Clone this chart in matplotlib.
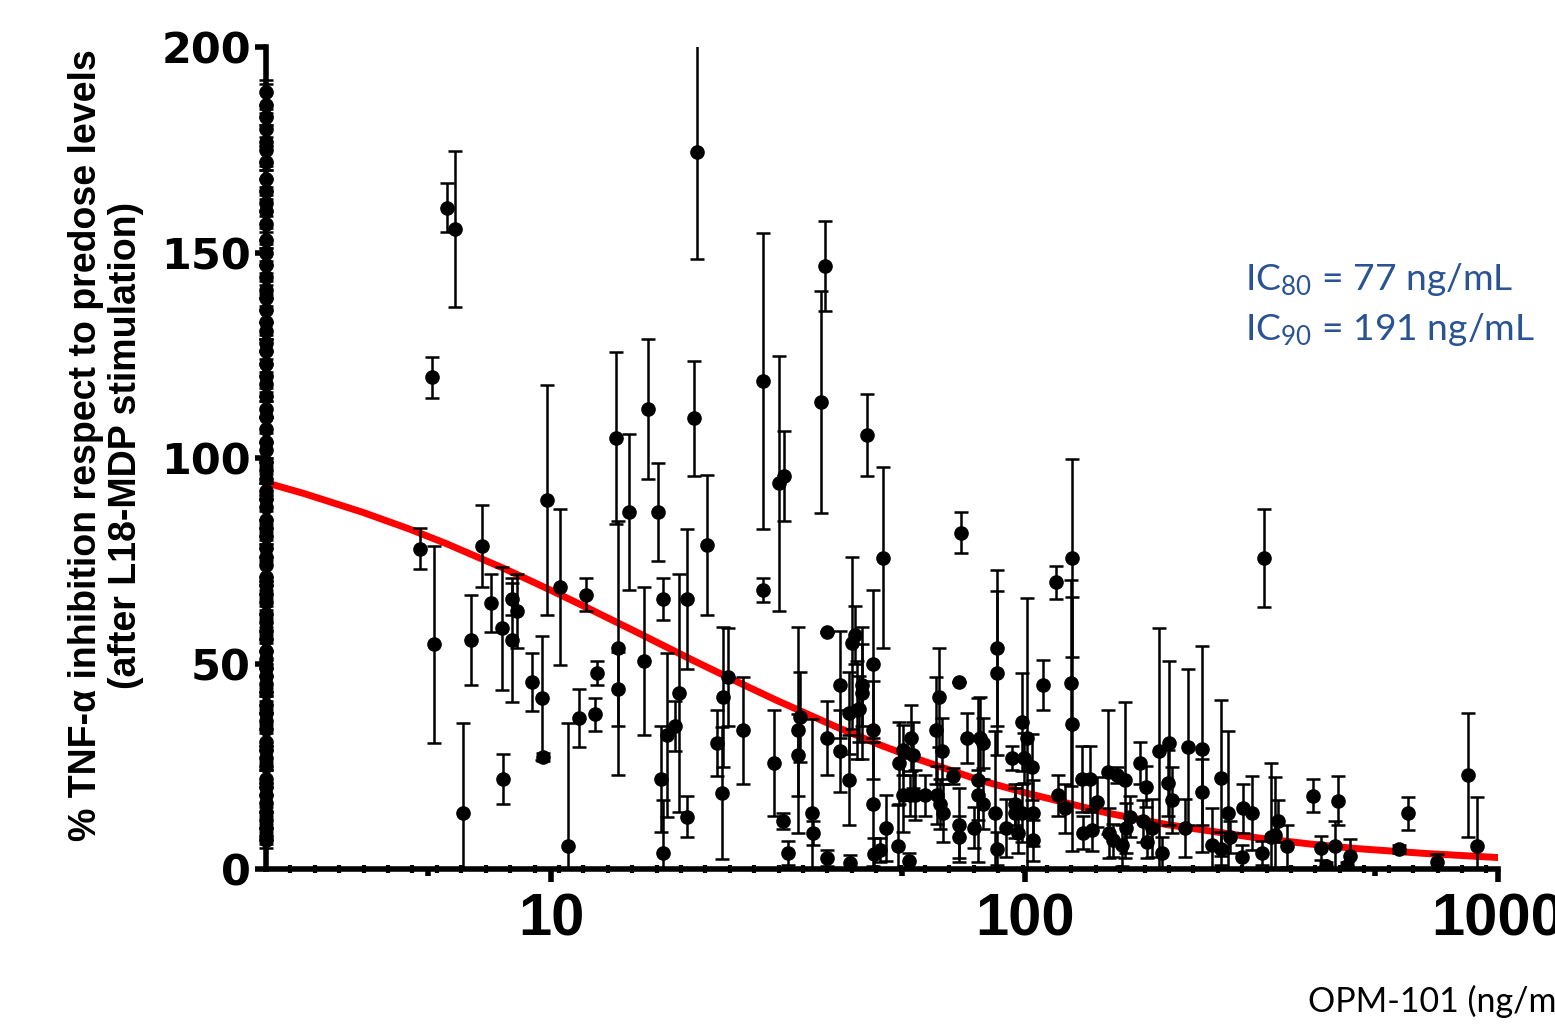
import numpy as np
import matplotlib
matplotlib.use("Agg")
import matplotlib.pyplot as plt
from matplotlib import font_manager
from matplotlib.ticker import FixedLocator, NullFormatter, NullLocator

# --- data -----------------------------------------------------------------
# OPM-101 concentration (ng/mL), % TNF-a inhibition and its error
conc = [5.29, 5.66, 5.61, 6.03, 6.27, 6.52, 6.78, 7.15, 7.47, 7.88,
        7.92, 8.27, 8.27, 8.48, 9.12, 9.57, 9.62, 9.81, 10.45, 10.86,
        11.46, 11.86, 12.5, 12.38, 13.72, 13.85, 13.85, 14.61, 15.72, 16.03,
        16.83, 17.24, 17.07, 17.24, 17.58, 18.28, 18.64, 19.38, 19.38, 20.04,
        20.34, 21.35, 23.08, 23.65, 22.97, 22.42, 25.44, 28.04, 28.04, 29.58,
        30.3, 31.0, 37.91, 37.18, 46.47, 73.45, 50.26, 126.0, 125.4, 126.0,
        30.9, 31.66, 33.24, 33.56, 33.24, 35.58, 35.7, 38.28, 38.28, 38.28,
        40.76, 40.76, 42.6, 42.6, 42.8, 43.22, 43.85, 44.3, 45.38, 45.38,
        44.72, 47.86, 47.86, 47.86, 48.1, 49.53, 50.99, 54.06, 54.3, 55.4,
        55.4, 57.6, 58.15, 57.3, 57.04, 58.7, 61.65, 65.04, 65.99, 66.9,
        65.4, 66.3, 67.2, 70.63, 72.72, 72.72, 72.72, 75.62, 78.24, 79.77,
        79.77, 80.5, 81.74, 81.74, 86.6, 87.5, 87.5, 87.5, 91.4, 94.1,
        95.5, 95.5, 96.9, 98.8, 99.8, 101.2, 103.7, 104.2, 104.2, 98.8,
        109.4, 116.6, 117.6, 121.8, 132.2, 132.8, 137.5, 138.8, 142.3, 150.1,
        150.8, 153.8, 156.8, 160.6, 163.0, 163.8, 167.0, 175.4, 180.6, 178.0,
        181.4, 185.9, 192.3, 195.1, 201.9, 200.9, 204.9, 218.3, 221.2, 237.1,
        237.1, 248.9, 260.0, 260.0, 269.1, 272.0, 288.1, 289.4, 302.4, 317.4,
        331.6, 338.1, 343.1, 358.5, 406.6, 422.8, 433.1, 452.5, 459.2, 486.9,
        479.8, 618.0, 645.6, 743.2, 864.5, 902.9, 320.4]
inhib = [77.9, 54.7, 119.7, 160.9, 155.7, 13.6, 55.7, 78.6, 64.7, 58.6,
         21.9, 65.7, 55.7, 62.8, 45.5, 41.6, 27.3, 89.8, 68.6, 5.6,
         36.7, 66.7, 47.7, 37.7, 104.9, 53.8, 43.8, 86.9, 50.6, 111.9,
         86.9, 65.7, 21.9, 3.9, 32.6, 34.8, 42.8, 12.7, 65.7, 109.7,
         174.5, 78.8, 41.8, 46.7, 18.5, 30.7, 33.8, 118.7, 67.9, 25.8,
         93.9, 95.6, 146.7, 113.6, 105.6, 81.8, 75.7, 75.7, 45.3, 35.3,
         11.7, 3.9, 33.8, 37.0, 27.7, 13.6, 8.8, 57.7, 31.9, 2.7,
         44.8, 28.7, 38.0, 21.7, 1.5, 55.0, 56.9, 38.7, 44.8, 42.8,
         38.9, 49.9, 33.8, 15.8, 3.6, 4.6, 10.0, 5.6, 25.8, 29.0,
         18.0, 31.9, 27.7, 18.0, 1.9, 18.0, 18.0, 33.8, 41.8, 28.7,
         18.0, 15.8, 13.6, 22.6, 10.7, 7.8, 45.5, 31.9, 10.0, 21.7,
         18.0, 31.9, 30.7, 15.8, 13.6, 4.9, 53.8, 47.7, 10.0, 27.0,
         15.8, 13.6, 8.8, 35.8, 27.0, 31.9, 24.8, 13.6, 7.0, 13.6,
         44.8, 69.8, 18.0, 14.8, 21.9, 8.8, 21.9, 9.5, 16.3, 23.6,
         8.8, 7.0, 22.9, 5.8, 21.7, 10.0, 12.7, 25.8, 20.0, 11.7,
         6.6, 10.0, 28.7, 3.9, 30.7, 20.9, 16.8, 10.0, 29.7, 29.2,
         18.7, 5.8, 4.9, 22.1, 13.6, 7.8, 2.9, 14.8, 13.6, 3.9,
         7.8, 8.3, 11.7, 5.6, 17.8, 5.1, 0.7, 5.6, 16.6, 3.2,
         0.7, 4.9, 13.6, 1.7, 22.9, 5.6, 75.7]
sem = [5, 24, 5, 6, 19, 22, 11, 10, 7, 15,
       6, 4, 15, 9, 7, 15, 1, 28, 19, 30,
       7, 4, 3, 4, 21, 31, 9, 19, 18, 17,
       12, 5, 13, 13, 20, 6, 29, 5, 17, 14,
       26, 17, 17, 12, 16, 8, 13, 36, 3, 13,
       31, 11, 11, 27, 10, 5, 22, 24, 25, 31,
       2, 3, 25, 11, 10, 23, 3, 0, 9, 2,
       13, 10, 10, 11, 2, 21, 7, 12, 10, 16,
       8, 18, 12, 15, 4, 3, 8, 10, 10, 6,
       9, 8, 8, 5, 2, 6, 5, 13, 12, 8,
       7, 6, 7, 2, 9, 5, 0, 6, 5, 20,
       6, 10, 6, 6, 20, 4, 19, 20, 7, 3,
       5, 6, 5, 12, 6, 34, 8, 8, 5, 7,
       6, 4, 5, 6, 8, 4, 8, 5, 6, 15,
       6, 4, 2, 5, 19, 6, 5, 5, 5, 5,
       4, 7, 30, 4, 20, 8, 8, 7, 19, 25,
       8, 9, 4, 19, 20, 4, 3, 6, 9, 3,
       18, 14, 5, 5, 4, 3, 1, 6, 6, 4,
       1, 1, 4, 2, 15, 12, 12]

# predose samples, drawn on the left edge of the axis
predose_conc = 2.5
predose_inhib = [189, 186, 183, 180, 177, 175, 172, 168, 165, 162,
                 160, 157, 153, 150, 147, 144, 141, 139, 136, 133,
                 131, 128, 126, 123, 120, 118, 115, 112, 110, 107,
                 104, 102, 99, 97, 95, 92, 90, 88, 85, 83,
                 81, 78, 76, 74, 71, 69, 67, 65, 62, 60,
                 58, 56, 53, 51, 49, 47, 45, 43, 40, 38,
                 36, 34, 31, 29, 27, 25, 22, 20, 18, 16,
                 14, 12, 10, 8, 7]
predose_sem = [3, 5, 2, 4, 6, 3, 4, 2, 5, 3,
               4, 6, 2, 3, 5, 4, 2, 6, 3, 4,
               5, 2, 3, 6, 4, 3, 5, 2, 4, 3,
               6, 2, 5, 3, 4, 2, 6, 3, 5, 4,
               2, 3, 6, 4, 5, 2, 3, 4, 6, 2,
               5, 3, 4, 2, 6, 3, 5, 4, 2, 3,
               6, 4, 2, 5, 3, 4, 2, 6, 3, 5,
               4, 2, 3, 2, 2]

# fitted curve, read at a few concentrations
fit_conc = [2.5, 3, 4, 5, 6, 8, 10, 12, 15, 20, 25, 30, 40, 50, 60, 80,
            100, 150, 200, 300, 400, 500, 700, 1000]
fit_inhib = [94.0, 91.4, 86.8, 82.8, 79.2, 73.0, 67.8, 63.4, 57.9, 50.7,
             45.3, 41.0, 34.6, 30.0, 26.6, 21.7, 18.6, 13.6, 10.8, 7.8,
             6.1, 5.0, 3.8, 2.8]

assert len(conc) == len(inhib) == len(sem)
assert len(predose_inhib) == len(predose_sem)


def pick(*names):
    avail = {f.name for f in font_manager.fontManager.ttflist}
    for n in names:
        if n in avail:
            return n
    return "DejaVu Sans"


narrow = pick("Liberation Sans Narrow", "Liberation Sans")
arial = pick("Liberation Sans")
calib = pick("Lato", "Open Sans")

plt.rcParams["mathtext.fontset"] = "custom"
plt.rcParams["mathtext.rm"] = calib
plt.rcParams["mathtext.it"] = calib

fig = plt.figure(figsize=(15.55, 10.27), dpi=100)
ax = fig.add_axes([0.1711, 0.1538, 0.7923, 0.8004])
ax.set_xscale("log")
ax.set_xlim(2.5, 1000)
ax.set_ylim(0, 200)

ax.plot(fit_conc, fit_inhib, color="#ff0000", lw=5, zorder=2)

eb_style = dict(fmt="o", color="black", ms=9.5, elinewidth=1.8,
                capsize=4.8, capthick=1.8, zorder=3)
ax.errorbar(conc, inhib, yerr=sem, **eb_style)
pre = ax.errorbar([predose_conc] * len(predose_inhib), predose_inhib,
                  yerr=predose_sem, **eb_style)
for art in pre.get_children():
    art.set_clip_on(False)

# axes styling
for s in ["top", "right"]:
    ax.spines[s].set_visible(False)
for s in ["left", "bottom"]:
    ax.spines[s].set_linewidth(4)

ax.set_xticks([10, 100, 1000])
ax.set_xticklabels(["10", "100", "1000"])
step = 0.051544
dots = [2.5 * 10 ** (step * k) for k in range(1, 51)]
ax.xaxis.set_minor_locator(FixedLocator(dots))
ax.xaxis.set_minor_formatter(NullFormatter())
ax.tick_params(axis="x", which="major", direction="out", length=9, width=4, pad=8)
ax.tick_params(axis="x", which="minor", direction="inout", length=6, width=3)
for lab in ax.get_xticklabels():
    lab.set_fontfamily(arial)
    lab.set_fontweight("bold")
    lab.set_fontsize(43)

ax.set_yticks([0, 50, 100, 150, 200])
ax.yaxis.set_minor_locator(NullLocator())
ax.tick_params(axis="y", direction="out", length=8, width=4, pad=3)
for lab in ax.get_yticklabels():
    lab.set_fontfamily("DejaVu Sans")
    lab.set_fontweight("bold")
    lab.set_fontsize(31)

# medium ticks just before each decade
sec = ax.secondary_xaxis("bottom")
sec.set_xticks([5.5, 55, 550])
sec.xaxis.set_minor_locator(NullLocator())
sec.tick_params(axis="x", which="major", direction="out", length=5, width=4,
                labelbottom=False)
sec.spines["bottom"].set_visible(False)

fig.text(0.0682, 0.5667,
         "% TNF-\u03b1 inhibition respect to predose levels\n(after L18-MDP stimulation)",
         rotation=90, ha="center", va="center", multialignment="center",
         fontsize=27, fontweight="bold", family=[narrow, "DejaVu Sans"],
         linespacing=1.15)

fig.text(0.8006, 0.7176, r"IC$_\mathrm{80}$ = 77 ng/mL", color="#2A5394",
         fontsize=26.8, family=calib, va="baseline")
fig.text(0.8006, 0.669, r"IC$_\mathrm{90}$ = 191 ng/mL", color="#2A5394",
         fontsize=26.8, family=calib, va="baseline")

# axis title sits at the lower right and runs past the figure edge
fig.text(0.8411, 0.0146, "OPM-101 (ng/mL)", fontsize=24.5, family=calib,
         va="baseline")

fig.savefig("out.png", dpi=100)
